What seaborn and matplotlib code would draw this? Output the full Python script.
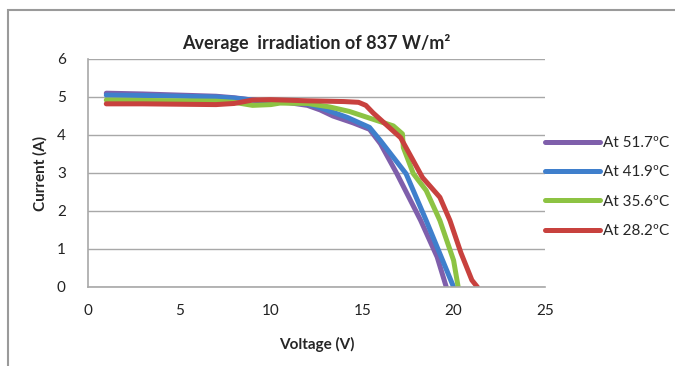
import matplotlib
matplotlib.use("Agg")
import matplotlib.pyplot as plt
import seaborn as sns
import pandas as pd
from matplotlib.patches import Rectangle

# ---- data ----
labels = ["At 51.7ºC", "At 41.9ºC", "At 35.6ºC", "At 28.2ºC"]
colors = ["#7F5FAB", "#3F7FCC", "#8DC343", "#C8413E"]

v_517 = [1, 3, 5, 7, 8, 9, 10, 11, 12, 12.7, 13.4, 14.5, 15.4, 16.0, 16.9, 18.2, 19.1, 19.6]
i_517 = [5.10, 5.08, 5.05, 5.02, 4.98, 4.92, 4.88, 4.85, 4.78, 4.66, 4.50, 4.32, 4.15, 3.77, 2.98, 1.75, 0.79, 0.0]

v_419 = [1, 3, 5, 7, 8, 9, 10, 11, 12, 12.7, 14.2, 15.4, 16.0, 17.4, 18.5, 19.4, 20.0]
i_419 = [5.05, 5.04, 5.02, 5.00, 4.97, 4.92, 4.88, 4.86, 4.82, 4.72, 4.46, 4.20, 3.85, 2.98, 1.75, 0.70, 0.0]

v_356 = [1, 3, 5, 7, 8, 9, 10, 10.5, 12, 13.2, 14.3, 15.3, 16.7, 17.2, 17.25, 17.8, 18.5, 19.25, 20.0, 20.25]
i_356 = [4.92, 4.91, 4.90, 4.89, 4.86, 4.78, 4.80, 4.84, 4.83, 4.74, 4.62, 4.46, 4.24, 4.03, 3.67, 2.98, 2.54, 1.75, 0.70, 0.0]

v_282 = [1, 3, 5, 7, 8, 9, 10, 12, 14, 14.8, 15.2, 15.6, 17.1, 18.3, 19.25, 19.8, 20.4, 21.0, 21.3]
i_282 = [4.82, 4.82, 4.81, 4.80, 4.83, 4.92, 4.93, 4.90, 4.88, 4.86, 4.78, 4.58, 3.93, 2.88, 2.36, 1.75, 0.90, 0.18, 0.0]

series = [(v_517, i_517), (v_419, i_419), (v_356, i_356), (v_282, i_282)]
frames = []
for lab, (v, i) in zip(labels, series):
    frames.append(pd.DataFrame({"Voltage": v, "Current": i, "Series": lab}))
df = pd.concat(frames, ignore_index=True)

sns.set_theme(style="white")
plt.rcParams["font.family"] = ["Lato", "DejaVu Sans"]

fig = plt.figure(figsize=(6.75, 3.66), dpi=100)
ax = fig.add_axes([88/675, 1-287/366, (545-88)/675, (287-59)/366])

sns.lineplot(data=df, x="Voltage", y="Current", hue="Series", hue_order=labels,
             palette=colors, sort=False, estimator=None, linewidth=3.6,
             ax=ax, legend=False)
for ln in ax.lines:
    ln.set_solid_joinstyle("round")
    ln.set_solid_capstyle("round")

ax.set_xlim(0, 25)
ax.set_ylim(0, 6)
ax.set_xticks([0, 5, 10, 15, 20, 25])
ax.set_yticks([0, 1, 2, 3, 4, 5, 6])
ax.tick_params(axis="both", length=0, labelsize=11, colors="#222222")
ax.tick_params(axis="x", pad=12)
ax.tick_params(axis="y", pad=16)
ax.yaxis.grid(True, color="#A8A8A8", linewidth=1)
ax.xaxis.grid(False)
for s in ["top", "right"]:
    ax.spines[s].set_visible(False)
for s in ["left", "bottom"]:
    ax.spines[s].set_color("#A8A8A8")
    ax.spines[s].set_linewidth(1.2)

ax.set_xlabel("Voltage (V)", fontsize=11, fontweight="bold", labelpad=14)
ax.set_ylabel("Current (A)", fontsize=11, fontweight="bold", labelpad=7)
ax.set_title("Average  irradiation of 837 W/m²", fontsize=13, fontweight="bold", pad=7)

handles = [plt.Line2D([0], [0], color=c, linewidth=3.6) for c in colors]
fig.legend(handles, labels, loc="center left", bbox_to_anchor=(537/675, 1-187/366),
           frameon=False, fontsize=11, handlelength=3.6, handletextpad=0.25,
           labelspacing=1.0, borderpad=0)

fig.patches.append(Rectangle((8/675, -0.1), 1.2, 1-10/366+0.1, transform=fig.transFigure,
                             fill=False, edgecolor="#9A9A9A", linewidth=1.5))

fig.savefig("out.png", dpi=100)
